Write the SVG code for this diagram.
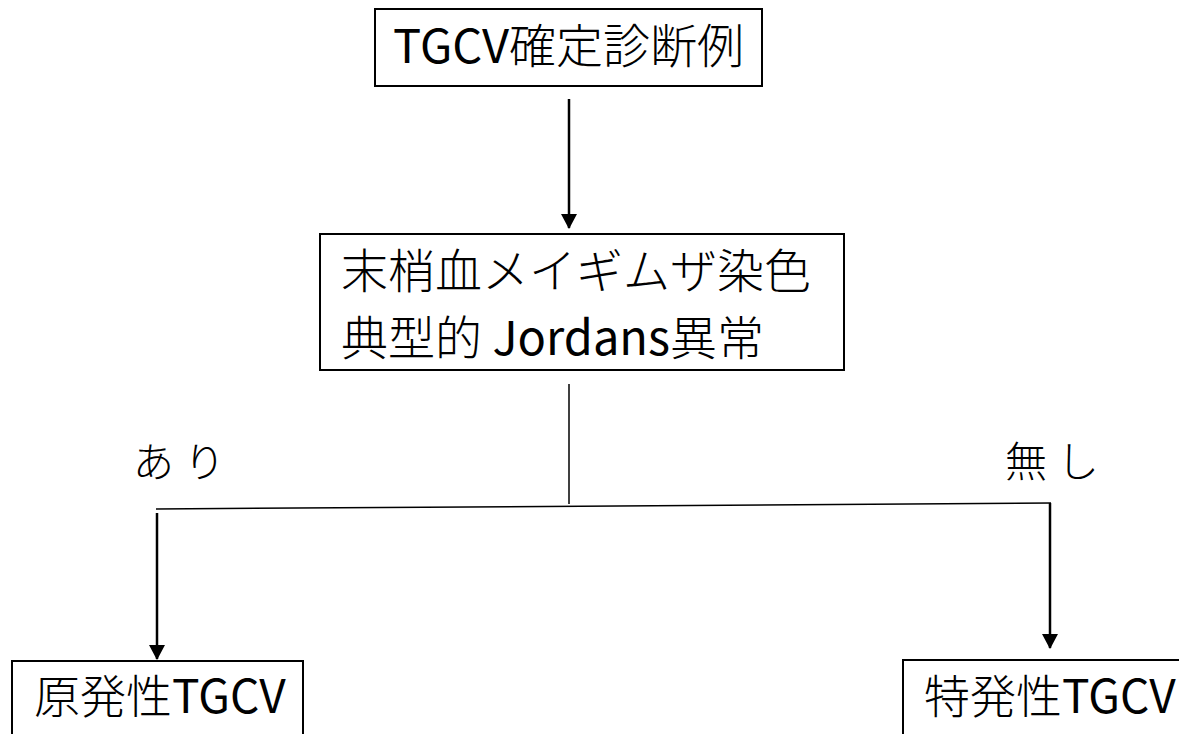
<svg xmlns="http://www.w3.org/2000/svg" width="1179" height="734" viewBox="0 0 1179 734">
<style>
.box{fill:#fff;stroke:#000;stroke-width:2}
.t{font-family:"Noto Sans CJK JP","Noto Sans",sans-serif;font-weight:300;fill:#000}
.l{font-weight:400}
.c{stroke:#000;fill:none}
</style>
<defs>
<marker id="ah" markerUnits="userSpaceOnUse" markerWidth="15" markerHeight="16" refX="14" refY="8" orient="auto" viewBox="0 0 15 16">
<path d="M0,0 L15,8 L0,16 Z" fill="#000"/>
</marker>
</defs>
<rect width="1179" height="734" fill="#fff"/>
<g id="connectors">
<line class="c" x1="569" y1="99" x2="569" y2="228" stroke-width="2.5" marker-end="url(#ah)"/>
<line class="c" x1="569" y1="384" x2="569" y2="504" stroke-width="1.5"/>
<line class="c" x1="156" y1="509" x2="1051" y2="503" stroke-width="1.5"/>
<line class="c" x1="157" y1="513" x2="157" y2="659" stroke-width="2.5" marker-end="url(#ah)"/>
<line class="c" x1="1050" y1="503" x2="1050" y2="648" stroke-width="2.5" marker-end="url(#ah)"/>
</g>
<g id="n-top">
<rect class="box" x="375" y="9" width="387" height="77"/>
<text class="t" x="393" y="63" font-size="47"><tspan class="l">TGCV</tspan>確定診断例</text>
</g>
<g id="n-mid">
<rect class="box" x="320" y="234" width="524" height="136"/>
<text class="t" x="341" y="288" font-size="47">末梢血メイギムザ染色</text>
<text class="t" x="341" y="355" font-size="47">典型的 <tspan class="l">Jordans</tspan>異常</text>
</g>
<g id="lbl-yes">
<text class="t" x="133" y="477" font-size="41" letter-spacing="10">あり</text>
</g>
<g id="lbl-no">
<text class="t" x="1005" y="477" font-size="42" letter-spacing="10">無し</text>
</g>
<g id="n-left">
<rect class="box" x="12" y="661" width="291" height="90"/>
<text class="t" x="34" y="713" font-size="46">原発性<tspan class="l">TGCV</tspan></text>
</g>
<g id="n-right">
<rect class="box" x="903" y="660" width="300" height="90"/>
<text class="t" x="924" y="713" font-size="46">特発性<tspan class="l">TGCV</tspan></text>
</g>
</svg>
